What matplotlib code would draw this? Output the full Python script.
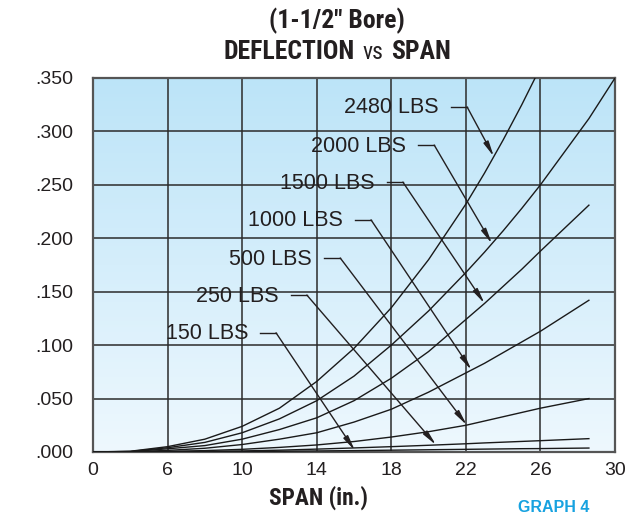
import numpy as np
import matplotlib
matplotlib.use("Agg")
import matplotlib.pyplot as plt
from matplotlib import font_manager
from matplotlib.colors import LinearSegmentedColormap

# span (in.) at which each curve was read
spans = [0, 3, 6, 8, 10, 12, 14, 16, 18, 20, 22, 23, 24, 25, 26, 28.6, 30]

# deflection (in.) for each load
defl_150 = [0, 0.00002, 0.0001, 0.0002, 0.0004, 0.0007, 0.001, 0.0013, 0.0017, 0.0021, 0.0025, 0.0027, 0.0029, 0.0031, 0.0032, 0.0037]
defl_250 = [0, 0.00005, 0.0003, 0.0006, 0.001, 0.0017, 0.0027, 0.0038, 0.005, 0.0063, 0.0077, 0.0085, 0.0092, 0.0099, 0.0106, 0.0125]
defl_500 = [0, 0.0001, 0.0006, 0.0013, 0.0025, 0.0043, 0.0066, 0.0098, 0.014, 0.019, 0.025, 0.029, 0.033, 0.037, 0.041, 0.050]
defl_1000 = [0, 0.0002, 0.0015, 0.0035, 0.007, 0.012, 0.018, 0.028, 0.040, 0.056, 0.074, 0.083, 0.093, 0.103, 0.113, 0.142]
defl_1500 = [0, 0.0003, 0.003, 0.006, 0.012, 0.021, 0.032, 0.048, 0.069, 0.094, 0.124, 0.139, 0.155, 0.171, 0.188, 0.231]
defl_2000 = [0, 0.0005, 0.004, 0.009, 0.018, 0.031, 0.048, 0.071, 0.100, 0.132, 0.168, 0.187, 0.207, 0.228, 0.250, 0.312, 0.350]
defl_2480 = [0, 0.0007, 0.005, 0.012, 0.024, 0.041, 0.066, 0.097, 0.135, 0.180, 0.232, 0.261, 0.292, 0.325, 0.360, 0.460, 0.530]

labels = ["150 LBS", "250 LBS", "500 LBS", "1000 LBS", "1500 LBS", "2000 LBS", "2480 LBS"]
curves = [defl_150, defl_250, defl_500, defl_1000, defl_1500, defl_2000, defl_2480]
# span where each leader arrow lands on its curve
arrow_span = [16.05, 20.4, 22.05, 22.3, 23.0, 23.4, 23.5]

x_ticks = [0, 6, 10, 14, 18, 22, 26, 30]
y_ticks = [0, 0.05, 0.10, 0.15, 0.20, 0.25, 0.30, 0.35]
y_tick_labels = [".000", ".050", ".100", ".150", ".200", ".250", ".300", ".350"]

# label text anchor (right edge, centre) in axes fraction
label_pos = [(0.297, 0.316), (0.356, 0.417), (0.420, 0.516), (0.479, 0.618),
             (0.540, 0.719), (0.600, 0.818), (0.663, 0.920)]


def pick_font(names):
    for n in names:
        try:
            font_manager.findfont(n, fallback_to_default=False)
            return n
        except ValueError:
            pass
    return "DejaVu Sans"


base = pick_font(["Liberation Sans", "Arial", "DejaVu Sans"])
cond = pick_font(["Liberation Sans Narrow", "Roboto Condensed", "Liberation Sans"])
plt.rcParams["font.family"] = [base, "DejaVu Sans"]

ink = "#231f20"

fig = plt.figure(figsize=(6.35, 5.16), dpi=100)
ax = fig.add_axes([93 / 635, 1 - 452 / 516, 522 / 635, 374 / 516])


# the span axis runs 0-6 in the first cell, then 4 in. per cell
def fwd(x):
    x = np.asarray(x, dtype=float)
    return np.where(x < 6, x / 6.0, 1 + (x - 6) / 4.0)


def inv(i):
    i = np.asarray(i, dtype=float)
    return np.where(i < 1, i * 6.0, 6 + 4.0 * (i - 1))


ax.set_xscale("function", functions=(fwd, inv))

# sky gradient background
sky = LinearSegmentedColormap.from_list("sky", ["#eef8fe", "#bce4f8"])
grad = np.linspace(0, 1, 256).reshape(-1, 1)
ax.imshow(grad, extent=[0, 1, 0, 1], transform=ax.transAxes, aspect="auto",
          cmap=sky, origin="lower", zorder=0, interpolation="bilinear")

for vals in curves:
    ax.plot(spans[:len(vals)], vals, color="#1a1a1a", lw=1.0, zorder=3)

for lab, (tx, ty), sp, vals in zip(labels, label_pos, arrow_span, curves):
    ax.text(tx, ty, lab, transform=ax.transAxes, ha="right", va="center",
            fontsize=15.5, color=ink, zorder=5)
    x0 = tx + 12 / 522
    x1 = x0 + 16 / 522
    ly = ty + 1 / 374
    ax.plot([x0, x1], [ly, ly], transform=ax.transAxes, color=ink, lw=1.0, zorder=4)
    tip = np.interp(sp, spans[:len(vals)], vals)
    ax.annotate("", xy=(sp, tip), xycoords="data", xytext=(x1, ly), textcoords="axes fraction",
                arrowprops=dict(arrowstyle="-|>,head_length=0.9,head_width=0.16",
                                color=ink, lw=1.0, shrinkA=0, shrinkB=0), zorder=4)

ax.set_xlim(0, 30)
ax.set_ylim(0, 0.35)
ax.set_xticks(x_ticks)
ax.set_xticklabels([str(t) for t in x_ticks])
ax.set_yticks(y_ticks)
ax.set_yticklabels(y_tick_labels)
ax.tick_params(length=0, labelsize=14, labelcolor=ink)
ax.tick_params(axis="y", pad=14)
ax.tick_params(axis="x", pad=7)
ax.grid(True, color="#2b2b2b", lw=1.1)
ax.set_axisbelow(True)
for s in ax.spines.values():
    s.set_color("#555555")
    s.set_linewidth(1.6)

# titles
fig.text(337 / 635, 1 - 28 / 516, '(1-1/2" Bore)', ha="center", va="baseline",
         fontsize=18.5, fontweight="bold", family=cond, color=ink)
fig.text(355 / 635, 1 - 59 / 516, "DEFLECTION", ha="right", va="baseline",
         fontsize=18.5, fontweight="bold", family=cond, color=ink)
fig.text(373 / 635, 1 - 59 / 516, "vs", ha="center", va="baseline",
         fontsize=17, family=cond, color=ink)
fig.text(391 / 635, 1 - 59 / 516, "SPAN", ha="left", va="baseline",
         fontsize=18.5, fontweight="bold", family=cond, color=ink)

fig.text(319 / 635, 1 - 505 / 516, "SPAN (in.)", ha="center", va="baseline",
         fontsize=16.8, fontweight="bold", family=cond, color=ink)
fig.text(518 / 635, 1 - 512 / 516, "GRAPH 4", ha="left", va="baseline",
         fontsize=11.5, fontweight="bold", family=base, color="#17a2e0")

fig.savefig("out.png", dpi=100)
